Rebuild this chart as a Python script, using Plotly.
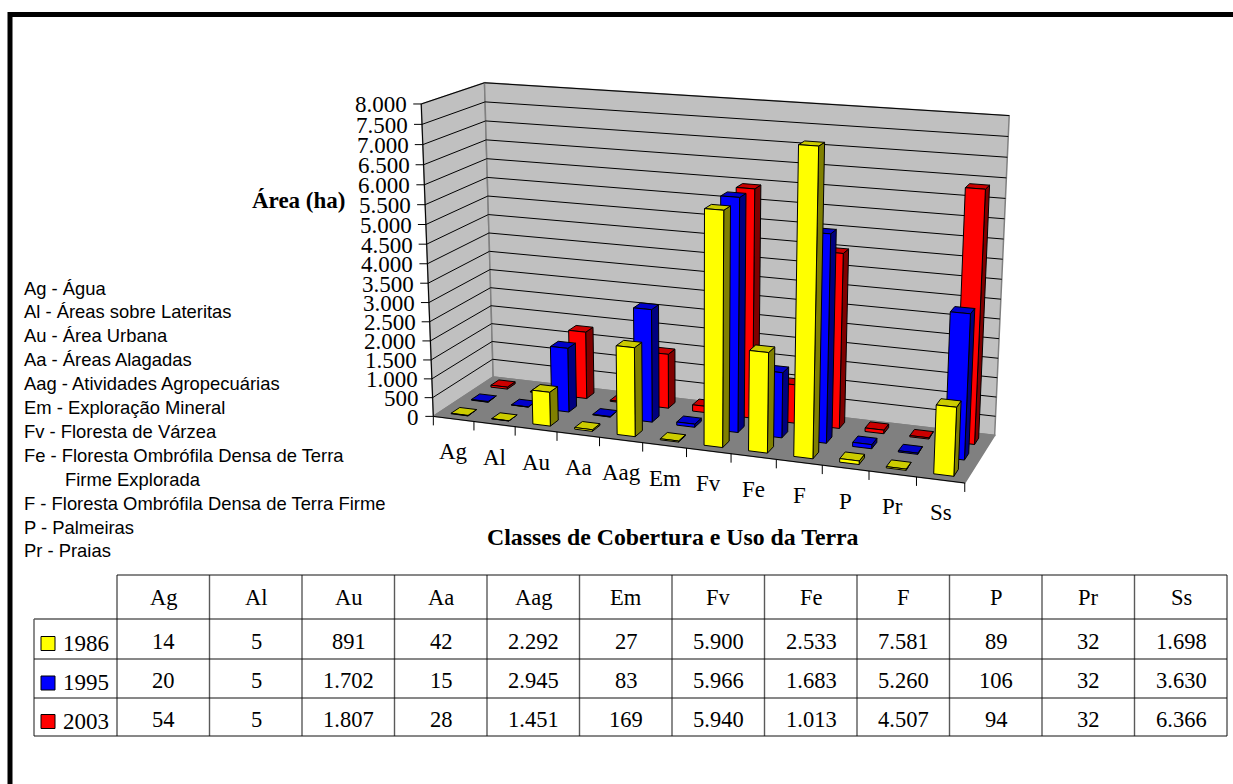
import numpy as np
import plotly.graph_objects as go

categories = ["Ag", "Al", "Au", "Aa", "Aag", "Em", "Fv", "Fe", "F", "P", "Pr", "Ss"]
years = ["1986", "1995", "2003"]
values_1986 = [14, 5, 891, 42, 2292, 27, 5900, 2533, 7581, 89, 32, 1698]
values_1995 = [20, 5, 1702, 15, 2945, 83, 5966, 1683, 5260, 106, 32, 3630]
values_2003 = [54, 5, 1807, 28, 1451, 169, 5940, 1013, 4507, 94, 32, 6366]
y_ticks = list(range(0, 8001, 500))
legend_lines = [
    "Ag - Água", "Al - Áreas sobre Lateritas", "Au - Área Urbana", "Aa - Áreas Alagadas",
    "Aag - Atividades Agropecuárias", "Em - Exploração Mineral", "Fv - Floresta de Várzea",
    "Fe - Floresta Ombrófila Densa de Terra", "Firme Explorada",
    "F - Floresta Ombrófila Densa de Terra Firme", "P - Palmeiras", "Pr - Praias",
]
series = [values_1986, values_1995, values_2003]
front_col = ["#FFFF00", "#0000FF", "#FF0000"]
top_col = ["#CCCC00", "#0000CC", "#CC0000"]
side_col = ["#808000", "#000080", "#800000"]
YMAX = 8000.0

# Camera calibration of the oblique chart box: (u, v, h) -> page pixels
calib = [
    ((0, 0, 0), (433.3, 416.7)), ((1, 0, 0), (964.3, 483.3)),
    ((0, 1, 0), (493.3, 376.7)), ((1, 1, 0), (995.0, 435.0)),
    ((0, 0, 1), (421.7, 103.3)), ((0, 1, 1), (484.0, 83.3)),
    ((1, 1, 1), (1009.3, 115.7)),
]
A, b = [], []
for (u, v, h), (px, py) in calib:
    A.append([u, v, h, 1, 0, 0, 0, 0, -px*u, -px*v, -px*h]); b.append(px)
    A.append([0, 0, 0, 0, u, v, h, 1, -py*u, -py*v, -py*h]); b.append(py)
m = np.linalg.lstsq(np.array(A, float), np.array(b, float), rcond=None)[0]
P = np.array([m[:4], m[4:8], [m[8], m[9], m[10], 1.0]])


def proj(u, v, h):
    w = P @ np.array([u, v, h, 1.0])
    return float(w[0] / w[2]), float(w[1] / w[2])


fig = go.Figure()


def poly(points, fill=None, line="#000000", width=1.0):
    xs = [p[0] for p in points]
    ys = [p[1] for p in points]
    if fill:
        xs.append(xs[0]); ys.append(ys[0])
    fig.add_trace(go.Scatter(
        x=xs, y=ys, mode="lines", fill="toself" if fill else None,
        fillcolor=fill, line=dict(color=line, width=width), hoverinfo="skip", showlegend=False))


def text(x, y, s, size, family="Liberation Serif", anchor="center", bold=False, color="#000000"):
    fig.add_annotation(x=x, y=y, xref="x", yref="y", text=f"<b>{s}</b>" if bold else s,
                       showarrow=False, xanchor=anchor, yanchor="middle",
                       font=dict(family=family, size=size, color=color))


# Page frame
poly([(10, 784), (10, 14.5), (1233, 14.5)], line="#000000", width=5)

# Walls and floor
GRAY = "#808080"
poly([proj(0, 0, 0), proj(0, 1, 0), proj(0, 1, 1), proj(0, 0, 1)], fill="#C0C0C0", line=GRAY, width=1.5)
poly([proj(0, 1, 0), proj(1, 1, 0), proj(1, 1, 1), proj(0, 1, 1)], fill="#C0C0C0", line=GRAY, width=1.5)
poly([proj(0, 0, 0), proj(1, 0, 0), proj(1, 1, 0), proj(0, 1, 0)], fill="#808080", line=GRAY, width=1.5)

# Gridlines, value axis, ticks
for t in y_ticks:
    h = t / YMAX
    if t > 0:
        poly([proj(0, 0, h), proj(0, 1, h), proj(1, 1, h)], line="#000000", width=1)
    x0, y0 = proj(0, 0, h)
    poly([(x0 - 8, y0), (x0, y0)], line="#000000", width=1)
    label = f"{t:,}".replace(",", ".")
    text(x0 - 12, y0 + 1, label, 23, anchor="right")
poly([proj(0, 0, 0), proj(0, 0, 1)], line="#000000", width=1)
poly([proj(0, 0, 0), proj(1, 0, 0)], line="#000000", width=1)
for i in range(13):
    x0, y0 = proj(i / 12, 0, 0)
    poly([(x0, y0), (x0, y0 + 9)], line="#000000", width=1)

# Bars, back row first
bw_u = 0.42 / 12
bw_v = 0.42 / 3
for j in (2, 1, 0):
    vc = (j + 0.5) / 3
    for i, val in enumerate(series[j]):
        uc = (i + 0.5) / 12
        h = val / YMAX
        u0, u1 = uc - bw_u / 2, uc + bw_u / 2
        v0, v1 = vc - bw_v / 2, vc + bw_v / 2
        poly([proj(u1, v0, 0), proj(u1, v1, 0), proj(u1, v1, h), proj(u1, v0, h)], fill=side_col[j])
        poly([proj(u0, v0, h), proj(u1, v0, h), proj(u1, v1, h), proj(u0, v1, h)], fill=top_col[j])
        poly([proj(u0, v0, 0), proj(u1, v0, 0), proj(u1, v0, h), proj(u0, v0, h)], fill=front_col[j])

# Category labels
for i, c in enumerate(categories):
    x0, y0 = proj((i + 0.5) / 12, 0, 0)
    text(x0, y0 + 33, c, 23)

# Axis titles
text(298, 200, "Área (ha)", 23, bold=True)
text(673, 537, "Classes de Cobertura e Uso da Terra", 23.8, bold=True)

# Side legend
for k, s in enumerate(legend_lines):
    x = 62.5 if s == "Firme Explorada" else 21.5
    text(x, 288 + 23.9 * k, s, 18.4, family="Liberation Sans", anchor="left")

# Data table
col_x = [117 + 92.5 * i for i in range(13)]
row_y = [575, 619, 659, 698, 736]
line_h = "#111111"
line_v = "#5A5A5A"
for x in col_x[1:-1]:
    poly([(x, row_y[0]), (x, row_y[-1])], line=line_v, width=1.4)
poly([(34, row_y[1]), (34, row_y[-1])], line=line_v, width=1.4)
poly([(34, row_y[1]), (col_x[0], row_y[1])], line=line_v, width=1.4)
poly([(col_x[0], row_y[0]), (col_x[-1], row_y[0])], line=line_h)
for y in row_y[1:]:
    poly([(col_x[0] if y == row_y[1] else 34, y), (col_x[-1], y)], line=line_h)
poly([(col_x[0], row_y[0]), (col_x[0], row_y[-1])], line=line_h)
poly([(col_x[-1], row_y[0]), (col_x[-1], row_y[-1])], line=line_h)
for i, c in enumerate(categories):
    text(col_x[i] + 46.5, (row_y[0] + row_y[1]) / 2, c, 22.5)
for j, vals in enumerate(series):
    yc = (row_y[j + 1] + row_y[j + 2]) / 2
    fig.add_trace(go.Scatter(x=[48], y=[yc + 4.5], mode="markers", hoverinfo="skip", showlegend=False,
                             marker=dict(symbol="square", size=14, color=front_col[j],
                                         line=dict(color="#000000", width=1))))
    text(61, yc + 4, years[j], 23, anchor="left")
    for i, v in enumerate(vals):
        text(col_x[i] + 46.5, yc + 2, f"{v:,}".replace(",", "."), 22.5)

fig.update_layout(
    width=1233, height=784, margin=dict(l=0, r=0, t=0, b=0),
    paper_bgcolor="#FFFFFF", plot_bgcolor="#FFFFFF", showlegend=False,
    xaxis=dict(range=[0, 1233], visible=False, fixedrange=True),
    yaxis=dict(range=[784, 0], visible=False, fixedrange=True),
)
fig.write_html("out.html", config={"displayModeBar": False, "staticPlot": True},
               post_script="document.body.style.margin='0';document.body.style.overflow='hidden';")
